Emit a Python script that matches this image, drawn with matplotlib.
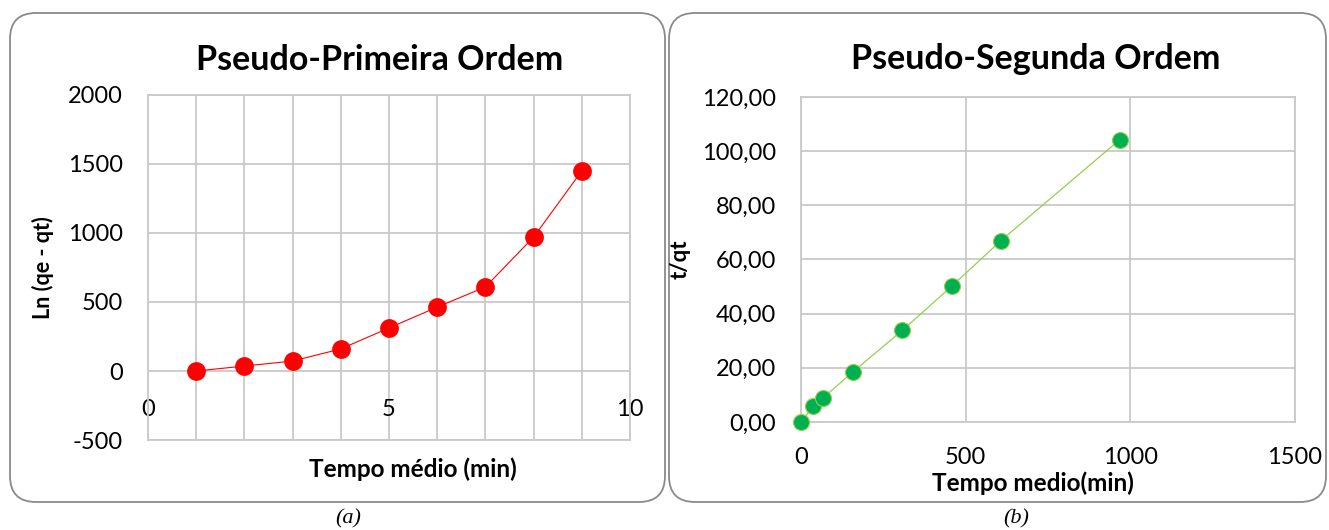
"""Kinetic model plots: pseudo-first and pseudo-second order fits."""
import matplotlib
matplotlib.use("Agg")

import matplotlib.pyplot as plt
from matplotlib import transforms
from matplotlib.patches import FancyBboxPatch
from matplotlib.ticker import FixedLocator, FuncFormatter

FONT = "Lato"
GRID_COLOR = "#c9c9c9"
TEXT_COLOR = "#000000"

# pseudo-first order
PFO_TIME = [1, 2, 3, 4, 5, 6, 7, 8, 9]
PFO_LN = [0, 36, 72, 160, 312, 463, 609, 970, 1449]

# pseudo-second order
PSO_TIME = [0, 37.5, 67.5, 157.5, 307.5, 457.5, 607.5, 967.5]
PSO_T_QT = [0.0, 5.8, 8.9, 18.5, 33.8, 50.1, 67.0, 104.2]

plt.rcParams["font.family"] = [FONT, "DejaVu Sans"]
plt.rcParams["axes.unicode_minus"] = False


def panel_box(fig, x0, y0, x1, y1):
    """Rounded frame around one chart, in pixel units."""
    box = FancyBboxPatch(
        (x0, y0), x1 - x0, y1 - y0,
        boxstyle="round,pad=0,rounding_size=26",
        transform=transforms.IdentityTransform(),
        facecolor="white", edgecolor="#8a8a8a", linewidth=1.3,
        zorder=-1,
    )
    fig.add_artist(box)


def style_axis(axis):
    axis.set_facecolor("white")
    axis.tick_params(which="both", length=0, labelsize=17,
                     labelcolor=TEXT_COLOR)
    axis.grid(True, which="both", color=GRID_COLOR, linewidth=1.3)
    axis.set_axisbelow(True)
    for spine in axis.spines.values():
        spine.set_color(GRID_COLOR)
        spine.set_linewidth(1.3)


fig = plt.figure(figsize=(13.29, 5.30), dpi=100)
fig.patch.set_facecolor("white")

panel_box(fig, 10, 28, 665, 517)
panel_box(fig, 669, 28, 1326, 517)

# --- (a) pseudo-first order ---
ax1 = fig.add_axes([0.1114, 0.1698, 0.3626, 0.6510])
style_axis(ax1)
ax1.set_xlim(0, 10)
ax1.set_ylim(-500, 2000)
ax1.xaxis.set_major_locator(FixedLocator([0, 5, 10]))
ax1.xaxis.set_minor_locator(FixedLocator(range(1, 10)))
ax1.yaxis.set_major_locator(FixedLocator(range(-500, 2001, 500)))
ax1.spines["bottom"].set_position(("data", 0))
ax1.spines["bottom"].set_visible(False)
ax1.axhline(-500, color=GRID_COLOR, linewidth=1.3, clip_on=False)
ax1.tick_params(axis="x", pad=20)
ax1.tick_params(axis="y", pad=18)
ax1.plot(PFO_TIME, PFO_LN, color="#ff0000", linewidth=0.8,
         marker="o", markersize=12.5, markerfacecolor="#ff0000",
         markeredgecolor="#ff0000", clip_on=False, zorder=3)
ax1.set_title("Pseudo-Primeira Ordem", fontsize=24.5, fontweight="bold",
              pad=18, x=0.481)
ax1.set_ylabel("Ln (qe - qt)", fontsize=15.5, fontweight="bold",
               labelpad=10)
ax1.set_xlabel("Tempo médio (min)", fontsize=17.5, fontweight="bold")
ax1.xaxis.set_label_coords(0.55, -0.05)

# --- (b) pseudo-second order ---
ax2 = fig.add_axes([0.6027, 0.2038, 0.3717, 0.6132])
style_axis(ax2)
ax2.set_xlim(0, 1500)
ax2.set_ylim(0, 120)
ax2.xaxis.set_major_locator(FixedLocator([0, 500, 1000, 1500]))
ax2.yaxis.set_major_locator(FixedLocator(range(0, 121, 20)))
ax2.yaxis.set_major_formatter(
    FuncFormatter(lambda v, _: f"{v:.2f}".replace(".", ",")))
ax2.tick_params(axis="x", pad=18)
ax2.tick_params(axis="y", pad=18)
ax2.plot(PSO_TIME, PSO_T_QT, color="#92d050", linewidth=0.9,
         marker="o", markersize=11.5, markerfacecolor="#00b050",
         markeredgecolor="#92d050", markeredgewidth=0.8,
         clip_on=False, zorder=3)
ax2.set_title("Pseudo-Segunda Ordem", fontsize=24.5, fontweight="bold",
              pad=20, x=0.476)
ax2.set_ylabel("t/qt", fontsize=16, fontweight="bold", labelpad=8)
ax2.set_xlabel("Tempo medio(min)", fontsize=17.5, fontweight="bold")
ax2.xaxis.set_label_coords(0.47, -0.152)

# captions under the frames
fig.text(348 / 1329, 1 - 519 / 530, "(a)", ha="center", va="center",
         fontsize=16, style="italic", family="Liberation Serif")
fig.text(1016 / 1329, 1 - 519 / 530, "(b)", ha="center", va="center",
         fontsize=16, style="italic", family="Liberation Serif")

fig.savefig("out.png", dpi=100, facecolor="white")
